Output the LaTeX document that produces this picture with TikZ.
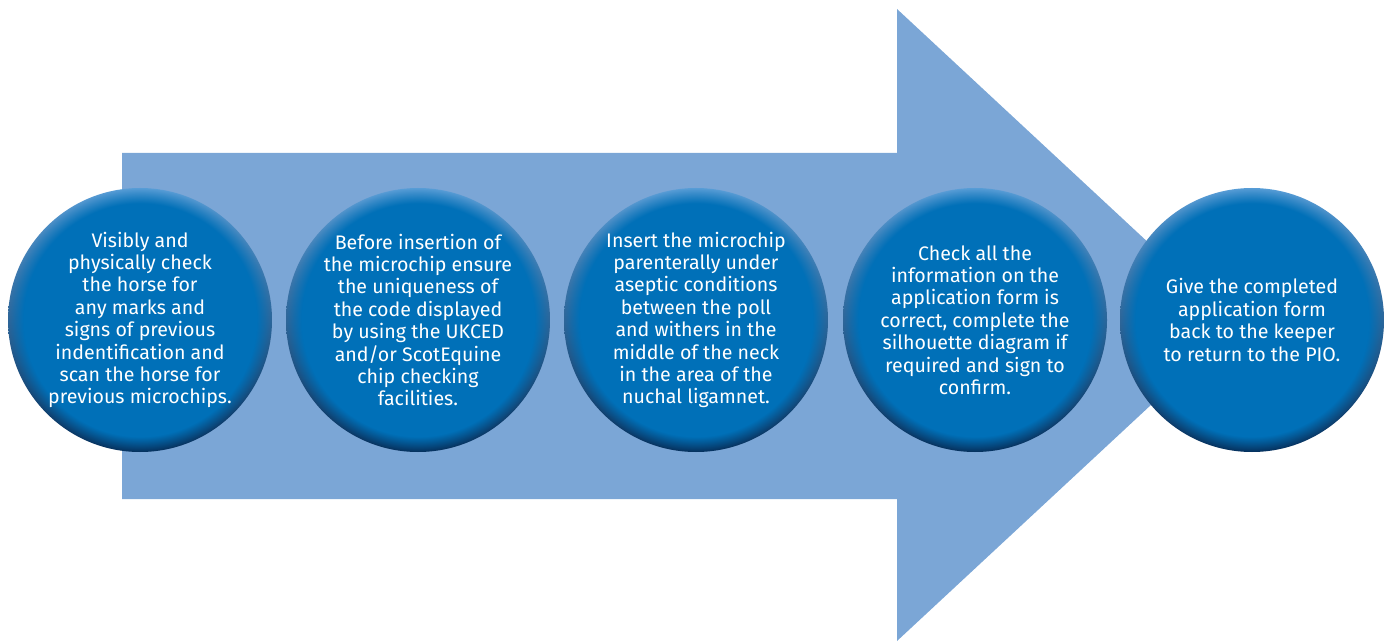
\documentclass[tikz,border=0pt]{standalone}
\usepackage{fontspec}
\newfontfamily\stepfont{Fira Sans}
\usetikzlibrary{fadings}

\definecolor{shaftblue}{RGB}{123,166,214}
\definecolor{discblue}{RGB}{0,112,184}
\definecolor{rimlight}{RGB}{90,158,215}
\definecolor{rimdark}{RGB}{6,45,88}

% soft edge for the discs: opaque inside, fading out at the rim
\pgfdeclareradialshading{discmask}{\pgfpointorigin}{color(0bp)=(pgftransparent!0); color(22bp)=(pgftransparent!0); color(25bp)=(pgftransparent!100); color(50bp)=(pgftransparent!100)}
\pgfdeclarefading{discfade}{\pgfuseshading{discmask}}

\begin{document}
\begin{tikzpicture}[x=1pt, y=1pt,
disc/.style={circle, minimum size=264pt, inner sep=0pt, text=white, align=center,
  font=\stepfont\fontsize{19.6}{22.4}\selectfont,
  path picture={
    \shade[top color=rimlight, bottom color=rimdark] (path picture bounding box.south west) rectangle (path picture bounding box.north east);
    \fill[discblue, path fading=discfade] (path picture bounding box.center) circle (132pt);}}]
\useasboundingbox (0,0) rectangle (1387,641);

%arrow
\fill[shaftblue] (122,142) -- (897,142) -- (897,0) -- (1237,316) -- (897,632) -- (897,488) -- (122,488) -- cycle;

%steps
\node[disc] (scan) at (140,321) {Visibly and\\physically check\\the horse for\\any marks and\\signs of previous\\indentification and\\scan the horse for\\previous microchips.};
\node[disc] (verify) at (418,321) {Before insertion of\\the microchip ensure\\the uniqueness of\\the code displayed\\by using the UKCED\\and/or ScotEquine\\chip checking\\facilities.};
\node[disc] (insert) at (696,321) {Insert the microchip\\parenterally under\\aseptic conditions\\between the poll\\and withers in the\\middle of the neck\\in the area of the\\nuchal ligamnet.};
\node[disc] (confirm) at (975,321) {Check all the\\information on the\\application form is\\correct, complete the\\silhouette diagram if\\required and sign to\\confirm.};
\node[disc] (return) at (1252,321) {Give the completed\\application form\\back to the keeper\\to return to the PIO.};
\end{tikzpicture}
\end{document}
